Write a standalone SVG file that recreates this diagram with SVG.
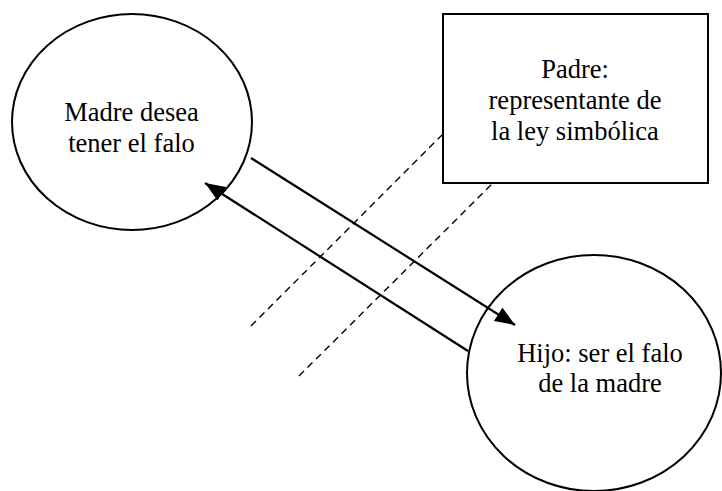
<svg xmlns="http://www.w3.org/2000/svg" width="722" height="491" viewBox="0 0 722 491">
<defs>
<style>
.shape{fill:#fff;stroke:#000;stroke-width:2}
.arrow{stroke:#000;stroke-width:2.2;fill:none}
.dash{stroke:#000;stroke-width:1.4;stroke-dasharray:7,5;fill:none}
text{font-family:"Liberation Serif","Times New Roman",serif;font-size:26.5px;text-anchor:middle;fill:#000}
</style>
<marker id="ah" markerUnits="userSpaceOnUse" markerWidth="22" markerHeight="16" refX="20" refY="8" orient="auto">
<path d="M0,0 L20,8 L0,16 Z" fill="#000"/>
</marker>
</defs>
<rect width="722" height="491" fill="#fff"/>
<g id="madre">
<ellipse class="shape" cx="132" cy="122" rx="120" ry="108"/>
<text x="131.5" y="121">Madre desea</text>
<text x="131.5" y="152">tener el falo</text>
</g>
<g id="padre">
<rect class="shape" x="443" y="14" width="265" height="169"/>
<text x="575" y="78">Padre:</text>
<text x="575" y="109">representante de</text>
<text x="575" y="140">la ley simbólica</text>
</g>
<g id="hijo">
<ellipse class="shape" cx="594" cy="373" rx="127" ry="118"/>
<text x="600" y="362">Hijo: ser el falo</text>
<text x="600" y="392">de la madre</text>
</g>
<g id="connectors">
<line class="arrow" x1="251" y1="158" x2="515" y2="325" marker-end="url(#ah)"/>
<line class="arrow" x1="468" y1="351" x2="205" y2="183" marker-end="url(#ah)"/>
<line class="dash" x1="251" y1="326" x2="443" y2="134"/>
<line class="dash" x1="299" y1="376" x2="493" y2="183"/>
</g>
</svg>
